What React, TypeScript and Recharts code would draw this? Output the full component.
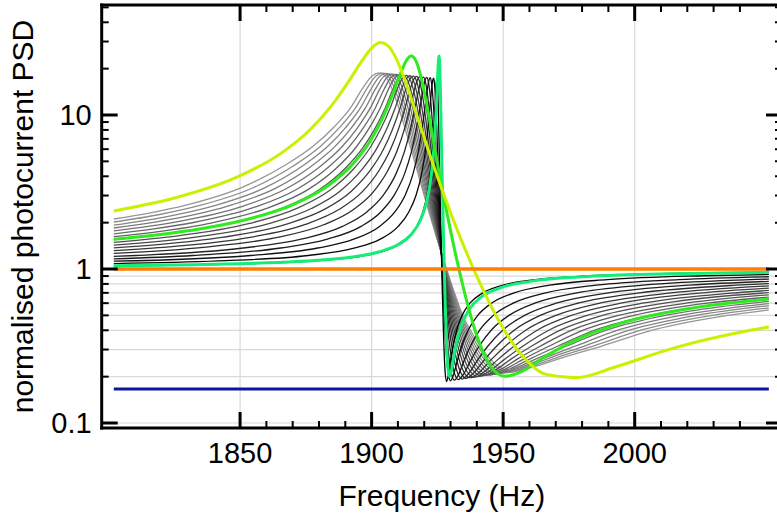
import { LineChart, Line, XAxis, YAxis, CartesianGrid } from "recharts";

type Pt = [number, number];

// frequency (Hz) vs normalised photocurrent PSD
// gray family: gray00 is the narrowest (black), gray17 the widest (light gray)
const gray00: Pt[] = [[1802,1.048],[1847.0,1.076],[1878.2,1.128],[1897.7,1.224],[1907.8,1.369],[1913.3,1.562],[1917.2,1.891],[1919.5,2.356],[1921.1,3.038],[1922.25,4.162],[1923.03,5.759],[1923.58,7.915],[1924.04,11.2],[1924.36,14.15],[1924.63,16.56],[1924.82,17.28],[1925.02,16.09],[1925.21,13.44],[1925.45,9.5],[1925.68,6.16],[1926.0,3.372],[1926.38,1.632],[1926.85,0.74],[1927.4,0.346],[1927.94,0.215],[1928.49,0.186],[1929.11,0.202],[1929.89,0.248],[1930.91,0.315],[1932.39,0.405],[1934.34,0.498],[1937.46,0.602],[1942.14,0.697],[1949.94,0.785],[1962.42,0.853],[1983.48,0.904],[2018.58,0.939],[2051,0.955]];
const gray01: Pt[] = [[1802,1.085],[1841.6,1.128],[1875.9,1.224],[1893.7,1.369],[1903.3,1.562],[1910.1,1.891],[1914.2,2.356],[1916.96,3.038],[1919.02,4.162],[1920.39,5.759],[1921.34,7.915],[1922.17,11.2],[1922.71,14.19],[1923.19,16.64],[1923.54,17.36],[1923.88,16.18],[1924.22,13.47],[1924.63,9.5],[1925.04,6.16],[1925.59,3.372],[1926.28,1.632],[1927.1,0.74],[1928.06,0.348],[1929.02,0.217],[1929.98,0.188],[1931.07,0.204],[1932.44,0.249],[1934.22,0.315],[1936.83,0.405],[1940.25,0.498],[1945.73,0.602],[1953.95,0.697],[1967.65,0.785],[1989.57,0.853],[2026.56,0.904],[2051,0.922]];
const gray02: Pt[] = [[1802,1.124],[1854.0,1.224],[1879.5,1.369],[1893.2,1.562],[1903.0,1.891],[1908.9,2.356],[1912.84,3.038],[1915.78,4.162],[1917.74,5.759],[1919.11,7.915],[1920.29,11.2],[1921.07,14.23],[1921.76,16.73],[1922.25,17.45],[1922.74,16.26],[1923.23,13.5],[1923.82,9.5],[1924.4,6.16],[1925.19,3.372],[1925.68,2.331],[1926.17,1.632],[1926.76,1.085],[1927.34,0.74],[1928.03,0.492],[1928.72,0.349],[1930.09,0.219],[1931.46,0.19],[1933.03,0.206],[1934.99,0.25],[1937.54,0.315],[1941.26,0.405],[1946.16,0.498],[1954.0,0.602],[1965.76,0.697],[1985.36,0.785],[2016.72,0.853],[2051,0.891]];
const gray03: Pt[] = [[1802,1.165],[1832.2,1.224],[1865.4,1.369],[1883.2,1.562],[1896.0,1.891],[1903.6,2.356],[1908.7,3.038],[1912.55,4.162],[1915.1,5.759],[1916.88,7.915],[1918.41,11.2],[1919.43,14.26],[1920.32,16.81],[1920.96,17.54],[1921.6,16.34],[1922.24,13.54],[1923.0,9.5],[1923.77,6.16],[1924.79,3.372],[1925.42,2.331],[1926.06,1.632],[1926.83,1.085],[1927.59,0.74],[1928.48,0.492],[1929.38,0.351],[1931.16,0.221],[1932.95,0.191],[1934.99,0.208],[1937.54,0.252],[1940.85,0.315],[1945.7,0.405],[1952.07,0.498],[1962.27,0.602],[1977.57,0.697],[2003.07,0.785],[2043.87,0.853],[2051,0.861]];
const gray04: Pt[] = [[1802,1.207],[1810.4,1.224],[1851.2,1.369],[1873.2,1.562],[1888.9,1.891],[1898.3,2.356],[1904.6,3.038],[1909.31,4.162],[1912.45,5.759],[1914.65,7.915],[1916.53,11.2],[1917.79,14.3],[1918.89,16.9],[1919.67,17.63],[1920.46,16.42],[1921.24,13.57],[1922.18,9.5],[1923.13,6.16],[1924.38,3.372],[1925.17,2.331],[1925.95,1.632],[1926.89,1.085],[1927.84,0.74],[1928.94,0.492],[1930.03,0.353],[1932.23,0.223],[1934.43,0.193],[1936.94,0.21],[1940.08,0.253],[1944.16,0.315],[1950.13,0.405],[1957.98,0.498],[1970.54,0.602],[1989.38,0.697],[2020.78,0.785],[2051,0.832]];
const gray05: Pt[] = [[1802,1.265],[1837.1,1.389],[1863.2,1.592],[1881.8,1.938],[1893.0,2.428],[1900.5,3.146],[1906.07,4.329],[1909.8,5.927],[1912.42,8.037],[1914.65,11.2],[1916.15,14.33],[1917.45,16.98],[1918.38,17.72],[1919.32,16.51],[1920.25,13.61],[1921.37,9.5],[1922.49,6.16],[1923.98,3.372],[1924.91,2.331],[1925.84,1.632],[1926.96,1.085],[1928.08,0.74],[1929.39,0.492],[1930.69,0.354],[1933.3,0.225],[1935.92,0.195],[1938.9,0.212],[1942.63,0.254],[1947.48,0.315],[1954.57,0.405],[1963.89,0.498],[1978.81,0.602],[2001.19,0.697],[2038.49,0.785],[2051,0.804]];
const gray06: Pt[] = [[1802,1.316],[1822.9,1.392],[1853.2,1.598],[1874.8,1.948],[1887.7,2.442],[1896.4,3.167],[1902.84,4.363],[1907.16,5.961],[1910.18,8.062],[1912.78,11.2],[1914.5,14.37],[1916.02,17.07],[1917.1,17.81],[1918.18,16.59],[1919.26,13.64],[1920.55,9.5],[1921.85,6.16],[1923.58,3.372],[1924.66,2.331],[1925.74,1.632],[1927.03,1.085],[1928.33,0.74],[1929.84,0.492],[1931.35,0.356],[1934.38,0.227],[1937.4,0.197],[1940.86,0.213],[1945.18,0.255],[1950.79,0.315],[1959.0,0.405],[1969.8,0.498],[1987.08,0.602],[2013.0,0.697],[2051,0.777]];
const gray07: Pt[] = [[1802,1.371],[1818.6,1.439],[1843.1,1.604],[1867.7,1.957],[1882.4,2.456],[1892.2,3.189],[1899.6,4.396],[1904.52,5.994],[1907.95,8.086],[1910.9,11.2],[1912.86,14.41],[1914.58,17.16],[1915.81,17.9],[1917.04,16.67],[1918.26,13.67],[1919.74,9.5],[1921.21,6.16],[1923.17,3.372],[1924.4,2.331],[1925.63,1.632],[1927.1,1.085],[1928.57,0.74],[1930.29,0.492],[1932.01,0.357],[1935.45,0.229],[1938.89,0.198],[1942.81,0.215],[1947.72,0.256],[1954.11,0.315],[1963.43,0.405],[1975.71,0.498],[1995.35,0.602],[2024.81,0.697],[2051,0.751]];
const gray08: Pt[] = [[1802,1.428],[1833.1,1.61],[1860.6,1.966],[1877.1,2.471],[1888.1,3.211],[1896.37,4.43],[1901.87,6.028],[1905.72,8.11],[1909.02,11.2],[1911.22,14.44],[1913.15,17.24],[1914.52,17.99],[1915.9,16.76],[1917.27,13.71],[1918.92,9.5],[1920.57,6.16],[1922.77,3.372],[1924.15,2.331],[1925.52,1.632],[1927.17,1.085],[1928.82,0.74],[1930.75,0.492],[1932.67,0.359],[1936.52,0.231],[1940.37,0.2],[1944.77,0.217],[1950.27,0.257],[1957.42,0.315],[1967.87,0.405],[1981.62,0.498],[2003.62,0.602],[2036.62,0.697],[2051,0.726]];
const gray09: Pt[] = [[1802,1.489],[1823.1,1.616],[1853.6,1.976],[1871.8,2.485],[1884.0,3.232],[1893.14,4.463],[1899.23,6.061],[1903.49,8.135],[1907.14,11.2],[1909.58,14.48],[1911.71,17.33],[1913.23,18.08],[1914.75,16.84],[1916.28,13.74],[1918.1,9.5],[1919.93,6.16],[1922.37,3.372],[1923.89,2.331],[1925.41,1.632],[1927.24,1.085],[1929.07,0.74],[1931.2,0.492],[1933.33,0.361],[1937.59,0.233],[1941.86,0.202],[1946.73,0.219],[1952.82,0.259],[1960.73,0.315],[1972.31,0.405],[1987.53,0.498],[2011.89,0.602],[2051,0.702]];
const gray10: Pt[] = [[1802,1.553],[1813.1,1.622],[1829.8,1.763],[1846.5,1.985],[1866.5,2.5],[1879.9,3.254],[1889.9,4.497],[1896.58,6.095],[1901.26,8.159],[1905.26,11.2],[1907.94,14.51],[1910.27,17.41],[1911.94,18.17],[1913.61,16.92],[1915.28,13.78],[1917.29,9.5],[1919.29,6.16],[1921.96,3.372],[1923.63,2.331],[1925.3,1.632],[1927.31,1.085],[1929.31,0.74],[1931.65,0.492],[1933.99,0.362],[1938.66,0.235],[1943.34,0.204],[1948.68,0.221],[1955.36,0.26],[1964.05,0.315],[1976.74,0.405],[1993.44,0.498],[2020.16,0.602],[2051,0.68]];
const gray11: Pt[] = [[1802,1.621],[1817.6,1.737],[1839.4,1.995],[1861.2,2.514],[1875.8,3.275],[1886.67,4.53],[1893.94,6.128],[1899.02,8.183],[1903.39,11.2],[1906.29,14.55],[1908.84,17.5],[1910.66,18.26],[1912.47,17.0],[1914.29,13.81],[1916.47,9.5],[1918.65,6.16],[1921.56,3.372],[1923.38,2.331],[1925.2,1.632],[1927.38,1.085],[1929.56,0.74],[1932.1,0.492],[1934.65,0.364],[1939.74,0.237],[1944.83,0.205],[1950.64,0.223],[1957.91,0.261],[1967.36,0.315],[1981.18,0.405],[1999.35,0.498],[2028.43,0.602],[2051,0.657]];
const gray12: Pt[] = [[1802,1.692],[1816.6,1.815],[1832.3,2.004],[1855.9,2.528],[1871.6,3.297],[1883.43,4.564],[1891.29,6.162],[1896.79,8.208],[1901.51,11.2],[1904.65,14.59],[1907.4,17.58],[1909.37,18.34],[1911.33,17.09],[1913.3,13.84],[1915.66,9.5],[1918.01,6.16],[1921.16,3.372],[1923.12,2.331],[1925.09,1.632],[1927.45,1.085],[1929.8,0.74],[1932.56,0.492],[1935.31,0.366],[1940.81,0.239],[1946.31,0.207],[1952.6,0.225],[1960.46,0.262],[1970.68,0.315],[1985.61,0.405],[2005.26,0.498],[2036.7,0.602],[2051,0.636]];
const gray13: Pt[] = [[1802,1.768],[1825.3,2.014],[1850.6,2.543],[1867.5,3.318],[1880.2,4.597],[1888.65,6.196],[1894.56,8.232],[1899.63,11.2],[1903.01,14.62],[1905.97,17.67],[1908.08,18.43],[1910.19,17.17],[1912.31,13.88],[1914.84,9.5],[1917.38,6.16],[1920.76,3.372],[1922.87,2.331],[1924.98,1.632],[1927.52,1.085],[1930.05,0.74],[1933.01,0.492],[1935.97,0.367],[1941.88,0.241],[1947.8,0.209],[1954.56,0.227],[1963.01,0.263],[1973.99,0.315],[1990.05,0.405],[2011.17,0.498],[2032.3,0.568],[2051,0.616]];
const gray14: Pt[] = [[1802,1.846],[1818.2,2.023],[1845.3,2.557],[1863.4,3.34],[1876.96,4.631],[1886.0,6.229],[1892.33,8.257],[1897.75,11.2],[1901.37,14.66],[1904.53,17.75],[1906.79,18.52],[1909.05,17.25],[1911.31,13.91],[1914.02,9.5],[1916.74,6.16],[1920.35,3.372],[1922.61,2.331],[1924.87,1.632],[1927.58,1.085],[1930.3,0.74],[1933.46,0.492],[1936.62,0.369],[1942.95,0.243],[1949.28,0.211],[1956.51,0.229],[1965.55,0.264],[1977.3,0.315],[1994.48,0.405],[2017.08,0.498],[2035.2,0.555],[2051,0.596]];
const gray15: Pt[] = [[1802,1.929],[1820.8,2.167],[1840.0,2.571],[1859.3,3.362],[1873.73,4.664],[1883.36,6.263],[1890.12,8.281],[1895.87,11.2],[1899.73,14.69],[1903.1,17.84],[1905.5,18.61],[1907.91,17.34],[1910.32,13.95],[1913.21,9.5],[1916.1,6.16],[1919.95,3.372],[1922.36,2.331],[1924.76,1.632],[1927.65,1.085],[1930.54,0.74],[1933.91,0.492],[1937.28,0.37],[1944.02,0.245],[1950.77,0.212],[1958.47,0.231],[1968.1,0.266],[1980.62,0.315],[1998.92,0.405],[2022.99,0.498],[2051,0.578]];
const gray16: Pt[] = [[1802,2.019],[1819.4,2.259],[1834.7,2.586],[1855.2,3.383],[1870.49,4.698],[1880.71,6.296],[1887.86,8.306],[1894.0,11.2],[1898.08,14.73],[1901.66,17.92],[1904.22,18.7],[1906.77,17.42],[1909.33,13.98],[1912.39,9.5],[1915.46,6.16],[1919.55,3.372],[1922.1,2.331],[1924.66,1.632],[1927.72,1.085],[1930.79,0.74],[1934.36,0.492],[1937.94,0.372],[1945.1,0.247],[1952.25,0.214],[1960.43,0.232],[1970.65,0.267],[1983.93,0.315],[2003.35,0.405],[2028.9,0.498],[2051,0.559]];
const gray17: Pt[] = [[1802,2.112],[1815.4,2.307],[1829.4,2.6],[1851.0,3.405],[1867.25,4.731],[1878.06,6.33],[1885.63,8.33],[1892.12,11.2],[1896.44,14.77],[1900.23,18.01],[1902.93,18.79],[1905.63,17.5],[1908.33,14.02],[1911.58,9.5],[1914.82,6.16],[1919.14,3.372],[1921.85,2.331],[1924.55,1.632],[1927.79,1.085],[1931.03,0.74],[1934.82,0.492],[1938.6,0.374],[1946.17,0.249],[1953.74,0.216],[1962.38,0.234],[1973.19,0.268],[1987.25,0.315],[2007.79,0.405],[2034.81,0.498],[2051,0.542]];

const springGreen: Pt[] = [[1802,1.051],[1839.35,1.073],[1871.75,1.119],[1882.55,1.15],[1891.19,1.189],[1902.71,1.29],[1909.91,1.436],[1914.95,1.67],[1918.55,2.073],[1920.71,2.651],[1922.15,3.513],[1923.23,4.957],[1923.95,7.046],[1924.45,9.917],[1924.89,14.38],[1925.17,18.81],[1925.43,22.79],[1925.61,24.13],[1925.79,22.85],[1925.97,19.12],[1926.18,13.63],[1926.4,9.06],[1926.69,5.145],[1927.05,2.616],[1927.48,1.25],[1927.98,0.592],[1928.49,0.33],[1928.99,0.23],[1929.57,0.201],[1930.29,0.217],[1931.22,0.268],[1932.59,0.349],[1934.39,0.442],[1937.27,0.552],[1941.59,0.656],[1948.79,0.753],[1960.31,0.831],[1979.75,0.889],[2012.15,0.93],[2051,0.951]];
const brightGreen: Pt[] = [[1802,1.56],[1818.8,1.67],[1835.05,1.826],[1851.3,2.073],[1870.8,2.651],[1883.8,3.513],[1893.55,4.957],[1900.05,7.046],[1904.6,9.917],[1908.5,14.38],[1911.1,18.81],[1913.38,22.79],[1915.0,24.13],[1916.63,22.85],[1918.25,19.12],[1920.2,13.63],[1922.15,9.06],[1924.75,5.145],[1926.38,3.645],[1928.0,2.616],[1929.95,1.789],[1931.9,1.25],[1934.18,0.846],[1936.45,0.592],[1941.0,0.33],[1945.55,0.23],[1950.75,0.201],[1957.25,0.217],[1965.7,0.268],[1978.05,0.349],[1994.3,0.442],[2020.3,0.552],[2051,0.638]];
const yellow: Pt[] = [[1802,2.383],[1825.45,2.9],[1848.35,3.915],[1865.52,5.634],[1876.97,8.145],[1884.99,11.63],[1891.86,17.11],[1896.44,22.63],[1900.45,27.71],[1903.31,29.58],[1906.17,28.25],[1909.04,23.86],[1912.47,17.21],[1915.91,11.59],[1920.49,6.695],[1923.35,4.797],[1926.21,3.481],[1929.65,2.412],[1933.08,1.704],[1937.09,1.164],[1941.1,0.815],[1949.11,0.438],[1957.13,0.275],[1966.29,0.207],[1977.74,0.197],[1992.62,0.231],[2014.38,0.305],[2043.0,0.397],[2051,0.42]];
const orangeLevel: Pt[] = [[1802,1],[2051,1]];
const blueLevel: Pt[] = [[1802,0.166],[2051,0.166]];

const grayCurves = [gray00, gray01, gray02, gray03, gray04, gray05, gray06, gray07, gray08, gray09, gray10, gray11, gray12, gray13, gray14, gray15, gray16, gray17];

const freqTicks = [1850, 1860, 1870, 1880, 1890, 1900, 1910, 1920, 1930, 1940, 1950, 1960, 1970, 1980, 1990, 2000, 2010, 2020, 2030, 2040];
const majorFreqs = [1850, 1900, 1950, 2000];
const levelTicks = [0.1, 0.2, 0.3, 0.4, 0.5, 0.6, 0.7, 0.8, 0.9, 1, 2, 3, 4, 5, 6, 7, 8, 9, 10, 20, 30, 40, 50];
const majorLevels = [0.1, 1, 10];
const gridFreqs = [1850, 1900, 1950, 2000];
const gridLevels = [0.1, 0.2, 0.3, 0.4, 0.5, 0.6, 0.7, 0.8, 0.9];

const xDomain = [1797.4, 2056.0];
const yDomain = [0.0928, 51.8];

const FONT = '"Liberation Sans", Arial, Helvetica, sans-serif';
const MAJOR = 16;
const MINOR = 7;

const rows = (pts: Pt[]) => pts.map(([f, v]) => ({ f, v }));

const grayShade = (i: number) => {
  const g = Math.round((150 * i) / (grayCurves.length - 1));
  return `rgb(${g},${g},${g})`;
};

const BottomTick = (p: any) => {
  const major = majorFreqs.includes(p.payload.value);
  return (
    <g>
      <line x1={p.x} x2={p.x} y1={p.y} y2={p.y - (major ? MAJOR : MINOR)} stroke="#000" strokeWidth={major ? 3 : 2} />
      {major && (
        <text x={p.x} y={p.y + 35} textAnchor="middle" fontSize={29} fontFamily={FONT} fill="#000">
          {p.payload.value}
        </text>
      )}
    </g>
  );
};

const TopTick = (p: any) => {
  const major = majorFreqs.includes(p.payload.value);
  return <line x1={p.x} x2={p.x} y1={p.y} y2={p.y + (major ? MAJOR : MINOR)} stroke="#000" strokeWidth={major ? 3 : 2} />;
};

const LeftTick = (p: any) => {
  const major = majorLevels.includes(p.payload.value);
  return (
    <g>
      <line x1={p.x} x2={p.x + (major ? MAJOR : MINOR)} y1={p.y} y2={p.y} stroke="#000" strokeWidth={major ? 3 : 2} />
      {major && (
        <text x={p.x - 10} y={p.y} dy="0.36em" textAnchor="end" fontSize={29} fontFamily={FONT} fill="#000">
          {p.payload.value}
        </text>
      )}
    </g>
  );
};

const RightTick = (p: any) => {
  const major = majorLevels.includes(p.payload.value);
  return <line x1={p.x} x2={p.x - (major ? MAJOR : MINOR)} y1={p.y} y2={p.y} stroke="#000" strokeWidth={major ? 3 : 2} />;
};

const frame = { stroke: "#000", strokeWidth: 3, strokeLinecap: "square" as const };

export default function App() {
  return (
    <div style={{ position: "absolute", left: 0, top: 0, width: 777, height: 521, overflow: "hidden", background: "#fff" }}>
      <LineChart width={790} height={521} margin={{ top: 4, right: 7, bottom: 92, left: 100.7 }}>
        <CartesianGrid horizontalValues={gridLevels} verticalValues={gridFreqs} stroke="#d9d9d9" strokeWidth={1.2} />
        {grayCurves
          .map((c, i) => (
            <Line
              key={`g${i}`}
              data={rows(c)}
              dataKey="v"
              type="monotone"
              stroke={grayShade(i)}
              strokeWidth={1.3}
              dot={false}
              activeDot={false}
              isAnimationActive={false}
            />
          ))
          .reverse()}
        <Line data={rows(springGreen)} dataKey="v" type="monotone" stroke="#14ee78" strokeWidth={3} dot={false} activeDot={false} isAnimationActive={false} />
        <Line data={rows(brightGreen)} dataKey="v" type="monotone" stroke="#2eea1e" strokeWidth={3} dot={false} activeDot={false} isAnimationActive={false} />
        <Line data={rows(yellow)} dataKey="v" type="monotone" stroke="#ccf000" strokeWidth={3} dot={false} activeDot={false} isAnimationActive={false} />
        <Line data={rows(orangeLevel)} dataKey="v" type="linear" stroke="#ff8000" strokeWidth={3.5} dot={false} activeDot={false} isAnimationActive={false} />
        <Line data={rows(blueLevel)} dataKey="v" type="linear" stroke="#0c16a0" strokeWidth={3} dot={false} activeDot={false} isAnimationActive={false} />
        <XAxis
          dataKey="f"
          type="number"
          domain={xDomain}
          allowDataOverflow
          ticks={freqTicks}
          interval={0}
          height={1}
          tickSize={0}
          tickMargin={0}
          tickLine={false}
          axisLine={frame}
          tick={(p: any) => <BottomTick {...p} />}
          label={{ value: "Frequency (Hz)", position: "bottom", offset: 56, style: { fontSize: 30, fontFamily: FONT, fill: "#000" } }}
        />
        <XAxis
          xAxisId="top"
          orientation="top"
          dataKey="f"
          type="number"
          domain={xDomain}
          allowDataOverflow
          ticks={freqTicks}
          interval={0}
          height={1}
          tickSize={0}
          tickMargin={0}
          tickLine={false}
          axisLine={frame}
          tick={(p: any) => <TopTick {...p} />}
        />
        <YAxis
          type="number"
          scale="log"
          domain={yDomain}
          allowDataOverflow
          ticks={levelTicks}
          interval={0}
          width={1}
          tickSize={0}
          tickMargin={0}
          tickLine={false}
          axisLine={frame}
          tick={(p: any) => <LeftTick {...p} />}
          label={{
            value: "normalised photocurrent PSD",
            angle: -90,
            position: "left",
            offset: 78.4,
            style: { fontSize: 30, fontFamily: FONT, fill: "#000", textAnchor: "middle" },
          }}
        />
        <YAxis
          yAxisId="right"
          orientation="right"
          type="number"
          scale="log"
          domain={yDomain}
          allowDataOverflow
          ticks={levelTicks}
          interval={0}
          width={1}
          tickSize={0}
          tickMargin={0}
          tickLine={false}
          axisLine={frame}
          tick={(p: any) => <RightTick {...p} />}
        />
      </LineChart>
    </div>
  );
}
